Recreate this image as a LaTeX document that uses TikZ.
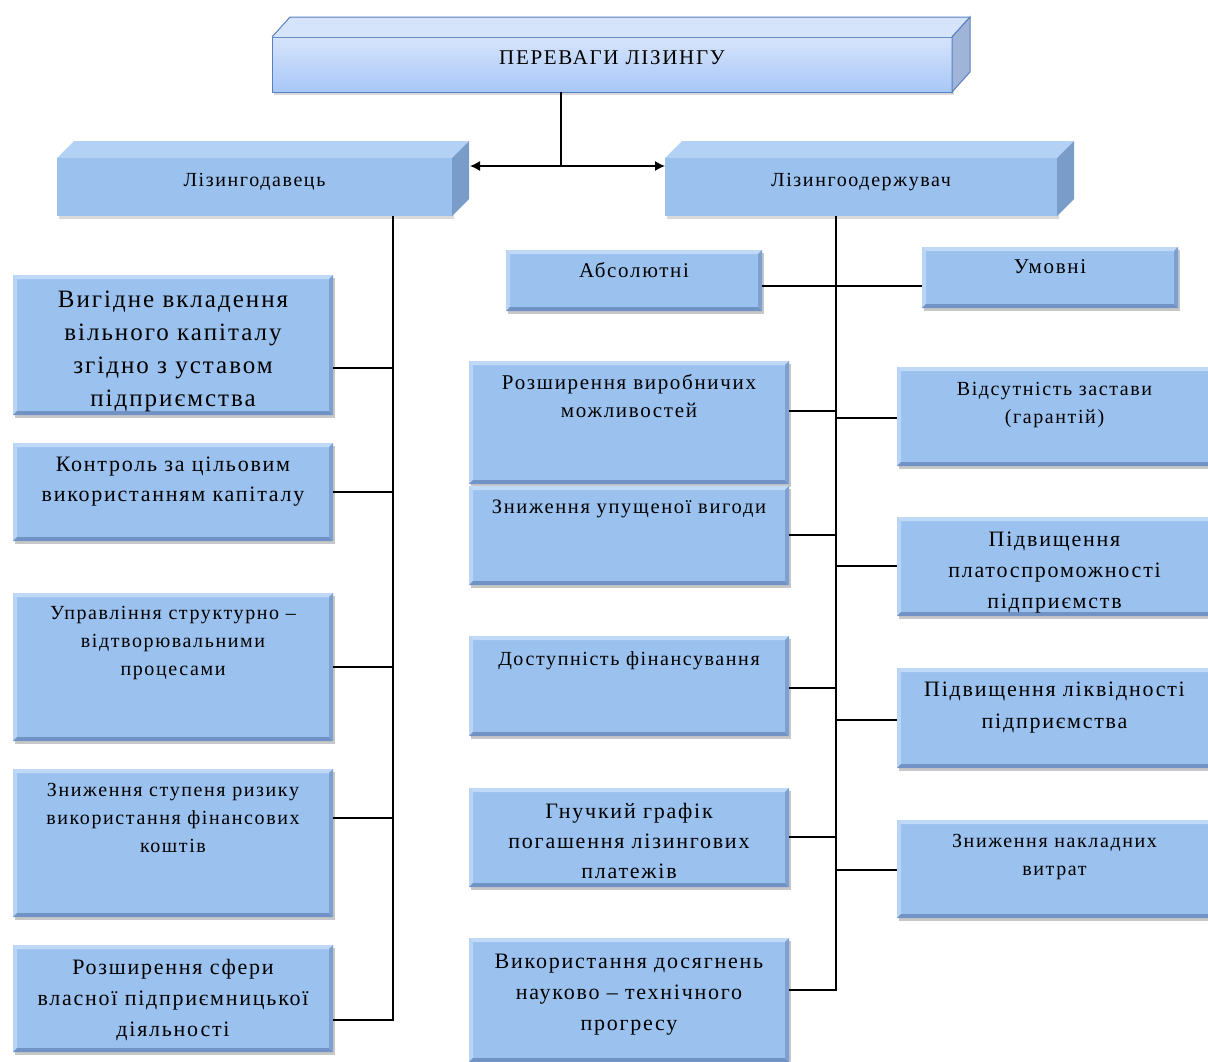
\documentclass[tikz,border=0pt]{standalone}
\usepackage{fontspec}
\setmainfont[LetterSpace=8]{Liberation Serif}
\usetikzlibrary{shadows,arrows.meta,calc}

\definecolor{boxfill}{RGB}{155,193,238}
\definecolor{boxlight}{RGB}{192,217,247}
\definecolor{boxdark}{RGB}{112,146,196}
\definecolor{hdtop}{RGB}{178,209,245}
\definecolor{hdside}{RGB}{122,156,200}
\definecolor{ttop}{RGB}{214,228,251}
\definecolor{tside}{RGB}{160,180,216}
\definecolor{tborder}{RGB}{88,128,194}

\newcommand{\btx}[6]{\parbox[c][#1pt][t]{#2pt}{\centering\fontsize{#3}{#4}\selectfont\vspace*{#5pt}\strut #6\par}}

\tikzset{
  bevelbox/.style={fill=boxfill, inner sep=0pt, outer sep=0pt,
    drop shadow={shadow xshift=2pt, shadow yshift=-3pt, opacity=0.4, fill=black!55},
    path picture={
      \fill[boxlight] (path picture bounding box.north west) -- (path picture bounding box.north east)
        -- ([xshift=-4pt,yshift=-4pt]path picture bounding box.north east) -- ([xshift=4pt,yshift=-4pt]path picture bounding box.north west) -- cycle;
      \fill[boxlight!80!boxfill] (path picture bounding box.north west) -- (path picture bounding box.south west)
        -- ([xshift=4pt,yshift=4pt]path picture bounding box.south west) -- ([xshift=4pt,yshift=-4pt]path picture bounding box.north west) -- cycle;
      \fill[boxdark] (path picture bounding box.south west) -- (path picture bounding box.south east)
        -- ([xshift=-4pt,yshift=4pt]path picture bounding box.south east) -- ([xshift=4pt,yshift=4pt]path picture bounding box.south west) -- cycle;
      \fill[boxdark!70!boxfill] (path picture bounding box.north east) -- (path picture bounding box.south east)
        -- ([xshift=-4pt,yshift=4pt]path picture bounding box.south east) -- ([xshift=-4pt,yshift=-4pt]path picture bounding box.north east) -- cycle;
    }},
  hdbox/.style={fill=boxfill, inner sep=0pt, outer sep=0pt,
    drop shadow={shadow xshift=2pt, shadow yshift=-3pt, opacity=0.3, fill=black!50}},
  topbox/.style={top color=ttop, bottom color={rgb,255:red,168;green,199;blue,247}, draw=tborder, line width=1pt,
    inner sep=0pt, outer sep=0pt,
    drop shadow={shadow xshift=2pt, shadow yshift=-3pt, opacity=0.3, fill=black!50}},
  conn/.style={draw=black, line width=1.3pt},
}

\begin{document}
\begin{tikzpicture}[x=1pt,y=-1pt]
\useasboundingbox (0,0) rectangle (1208,1061);
\clip (0,0) rectangle (1208,1061);

% top box
\node[topbox] (top) at (612,64.5) {\btx{55}{680}{21}{25}{9.5}{ПЕРЕВАГИ ЛІЗИНГУ}};
\fill[ttop] (top.north west) -- ([shift={(18pt,20pt)}]top.north west) -- ([shift={(18pt,20pt)}]top.north east) -- (top.north east) -- cycle;
\draw[tborder, line width=1pt] (top.north west) -- ([shift={(18pt,20pt)}]top.north west) -- ([shift={(18pt,20pt)}]top.north east) -- (top.north east);
\filldraw[fill=tside, draw=tborder, line width=1pt] (top.north east) -- ([shift={(18pt,20pt)}]top.north east) -- ([shift={(18pt,20pt)}]top.south east) -- (top.south east) -- cycle;

% header boxes
\node[hdbox] (lgiver) at (254.5,187) {\btx{58}{395}{20}{24}{11.2}{Лізингодавець}};
\fill[hdtop] (lgiver.north west) -- ([shift={(17pt,17pt)}]lgiver.north west) -- ([shift={(17pt,17pt)}]lgiver.north east) -- (lgiver.north east) -- cycle;
\fill[hdside] (lgiver.north east) -- ([shift={(17pt,17pt)}]lgiver.north east) -- ([shift={(17pt,17pt)}]lgiver.south east) -- (lgiver.south east) -- cycle;

\node[hdbox] (lrec) at (861,187) {\btx{58}{392}{20}{24}{11.2}{Лізингоодержувач}};
\fill[hdtop] (lrec.north west) -- ([shift={(17pt,17pt)}]lrec.north west) -- ([shift={(17pt,17pt)}]lrec.north east) -- (lrec.north east) -- cycle;
\fill[hdside] (lrec.north east) -- ([shift={(17pt,17pt)}]lrec.north east) -- ([shift={(17pt,17pt)}]lrec.south east) -- (lrec.south east) -- cycle;

% left column
\node[bevelbox] (l1) at (173,345) {\btx{140}{320}{25}{33}{9.1}{Вигідне вкладення\\ вільного капіталу\\ згідно з уставом\\ підприємства}};
\node[bevelbox] (l2) at (173,492) {\btx{98}{320}{22}{30}{7.5}{Контроль за цільовим\\ використанням капіталу}};
\node[bevelbox] (l3) at (173,667) {\btx{148}{320}{20}{28}{6.4}{Управління структурно –\\ відтворювальними\\ процесами}};
\node[bevelbox] (l4) at (173,843) {\btx{148}{320}{20}{28}{7.4}{Зниження ступеня ризику\\ використання фінансових\\ коштів}};
\node[bevelbox] (l5) at (173,998.5) {\btx{107}{320}{22}{31}{7.8}{Розширення сфери\\ власної підприємницької\\ діяльності}};

% middle column
\node[bevelbox] (abs) at (634,280.5) {\btx{61}{256}{21}{28}{7.6}{Абсолютні}};
\node[bevelbox] (m1) at (629,422.5) {\btx{123}{320}{21}{28}{8.6}{Розширення виробничих\\ можливостей}};
\node[bevelbox] (m2) at (629,535.5) {\btx{99}{320}{20.5}{28}{7.6}{Зниження упущеної вигоди}};
\node[bevelbox] (m3) at (629,686) {\btx{100}{320}{20}{28}{9.4}{Доступність фінансування}};
\node[bevelbox] (m4) at (629,837.5) {\btx{99}{320}{22}{30}{9.5}{Гнучкий графік\\ погашення лізингових\\ платежів}};
\node[bevelbox] (m5) at (629,1000) {\btx{124}{320}{22}{31}{8.8}{Використання досягнень\\ науково – технічного\\ прогресу}};

% right column
\node[bevelbox] (umov) at (1050,277.5) {\btx{61}{256}{21}{28}{6.6}{Умовні}};
\node[bevelbox] (r1) at (1054.5,416.5) {\btx{99}{315}{20}{28}{8.4}{Відсутність застави\\ (гарантій)}};
\node[bevelbox] (r2) at (1054.5,566.5) {\btx{99}{315}{22}{31}{7.8}{Підвищення\\ платоспроможності\\ підприємств}};
\node[bevelbox] (r3) at (1054.5,718) {\btx{100}{315}{22}{32}{6.1}{Підвищення ліквідності\\ підприємства}};
\node[bevelbox] (r4) at (1054.5,869) {\btx{98}{315}{20}{28}{7.4}{Зниження накладних\\ витрат}};

% connectors
\coordinate (j) at (561,166);
\coordinate (lgside) at ([xshift=18pt]lgiver.east);
\draw[conn] (j |- top.south) -- (j);
\draw[conn, {Latex[length=10pt,width=10pt]}-{Latex[length=10pt,width=10pt]}] (j -| lgside) -- (j -| lrec.west);

\coordinate (lv) at (393,1020);
\draw[conn] (lv |- lgiver.south) -- (lv) -- ([yshift=-21.5pt]l5.east);
\draw[conn] ([yshift=-23pt]l1.east) -- ([yshift=-23pt]l1.east -| lv);
\draw[conn] (l2.east) -- (l2.east -| lv);
\draw[conn] (l3.east) -- (l3.east -| lv);
\draw[conn] ([yshift=25pt]l4.east) -- ([yshift=25pt]l4.east -| lv);

\coordinate (rv) at (836,990);
\draw[conn] (rv |- lrec.south) -- (rv) -- ([yshift=10pt]m5.east);
\draw[conn] ([yshift=-5.5pt]abs.east) -- ([yshift=-5.5pt]abs.east -| umov.west);
\draw[conn] ([yshift=11.5pt]m1.east) -- ([yshift=11.5pt]m1.east -| rv);
\draw[conn] ([yshift=0.5pt]m2.east) -- ([yshift=0.5pt]m2.east -| rv);
\draw[conn] ([yshift=-2pt]m3.east) -- ([yshift=-2pt]m3.east -| rv);
\draw[conn] ([yshift=0.5pt]m4.east) -- ([yshift=0.5pt]m4.east -| rv);
\draw[conn] ([yshift=-1.5pt]r1.west) -- ([yshift=-1.5pt]r1.west -| rv);
\draw[conn] ([yshift=0.5pt]r2.west) -- ([yshift=0.5pt]r2.west -| rv);
\draw[conn] ([yshift=-2pt]r3.west) -- ([yshift=-2pt]r3.west -| rv);
\draw[conn] ([yshift=-1pt]r4.west) -- ([yshift=-1pt]r4.west -| rv);
\end{tikzpicture}
\end{document}
